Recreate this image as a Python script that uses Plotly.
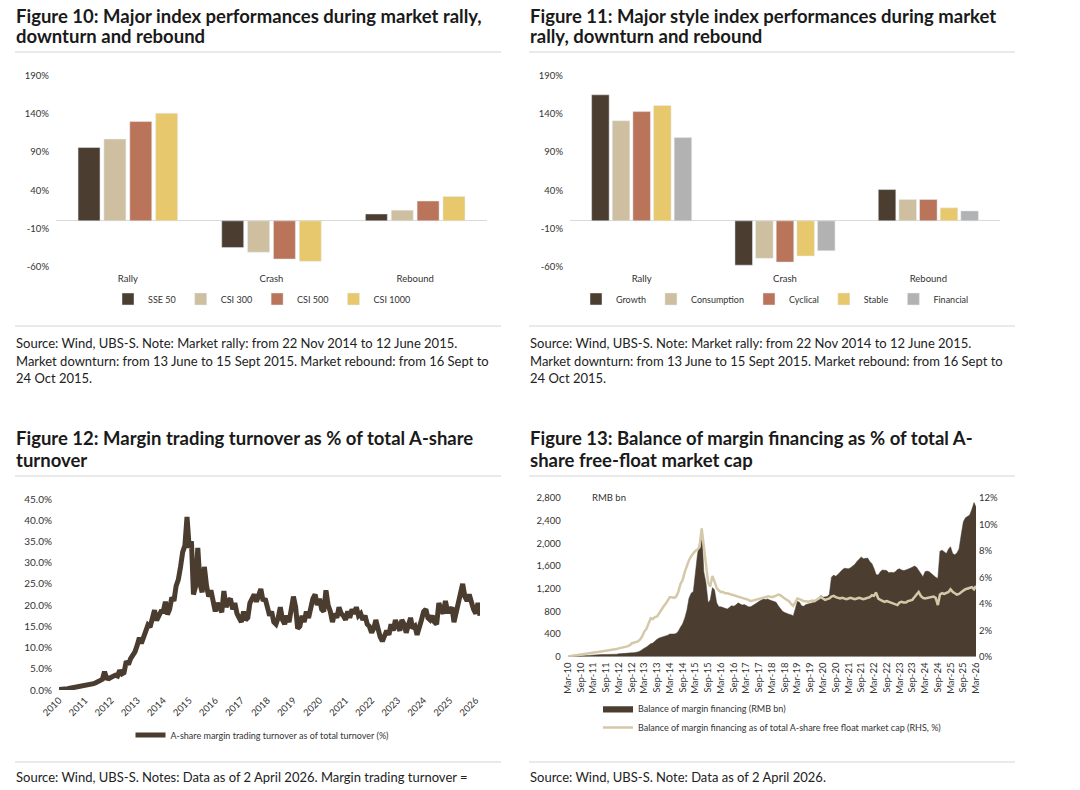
import plotly.graph_objects as go
import pandas as pd

W, H = 1080, 790
FONT = "Lato, Open Sans, sans-serif"

def px(x):
    return x / W

def py(y):
    return 1 - y / H

# ---------------- Figure 10 data ----------------
phase_cats = ["Rally", "Crash", "Rebound"]
sse50 = [96, -35, 9]
csi300 = [107, -41, 14]
csi500 = [130, -50, 26]
csi1000 = [141, -53, 32]

# ---------------- Figure 11 data ----------------
growth = [165, -58, 41]
consumption = [131, -49, 28]
cyclical = [143, -54, 28]
stable = [151, -46, 17]
financial = [109, -39, 13]

bar_ticks = [-60, -10, 40, 90, 140, 190]
bar_tick_labels = ["-60%", "-10%", "40%", "90%", "140%", "190%"]

# ---------------- Figure 12 data (monthly, Jan 2010 - Mar 2026, %) ----------------
turnover_start = "2010-01-01"
margin_turnover_pct = [
    0.1, 0.1, 0.2, 0.3, 0.3, 0.4, 0.5, 0.6, 0.7, 0.7, 0.9, 1.0,          # 2010
    1.1, 1.0, 1.3, 1.4, 1.5, 1.7, 1.9, 2.0, 2.5, 4.3, 2.8, 2.7,          # 2011
    3.0, 3.2, 3.5, 3.3, 4.6, 3.8, 4.1, 6.8, 6.0, 7.4, 8.2, 9.0,          # 2012
    10.5, 12.3, 11.0, 12.5, 14.5, 15.3, 14.8, 16.5, 18.8, 16.4, 17.5, 18.5,  # 2013
    18.5, 20.8, 17.8, 19.0, 21.8, 21.0, 24.5, 26.0, 29.0, 32.5, 34.0, 40.8,  # 2014
    33.5, 35.0, 22.5, 24.5, 33.5, 25.0, 23.0, 29.0, 24.5, 22.0, 23.5, 21.0,  # 2015
    18.5, 20.5, 19.0, 18.3, 23.3, 19.5, 21.0, 21.5, 19.0, 20.5, 18.0, 17.0,  # 2016
    16.0, 18.5, 16.5, 17.0, 20.5, 21.5, 22.5, 20.8, 22.0, 23.8, 21.0, 21.5,  # 2017
    19.5, 17.5, 18.5, 16.0, 15.5, 17.0, 19.5, 16.5, 15.5, 17.5, 16.0, 18.5,  # 2018
    22.0, 19.5, 14.5, 15.0, 17.5, 16.0, 18.5, 17.0, 19.5, 21.5, 22.5, 20.0,  # 2019
    21.5, 19.0, 18.5, 23.5, 20.0, 18.5, 16.0, 18.0, 17.0, 19.5, 18.0, 17.5,  # 2020
    16.5, 18.5, 17.0, 19.0, 18.0, 19.5, 17.5, 18.0, 16.5, 17.5, 15.5, 15.0,  # 2021
    13.5, 14.5, 16.5, 14.0, 12.5, 11.5, 12.5, 14.0, 13.0, 15.5, 14.0, 16.5,  # 2022
    15.0, 14.0, 16.5, 15.5, 13.5, 15.5, 17.0, 14.5, 15.0, 13.0, 14.5, 16.5,  # 2023
    18.5, 19.0, 17.0, 16.5, 17.5, 16.0, 15.5, 20.5, 19.0, 18.0, 21.0, 18.5,  # 2024
    18.5, 19.5, 16.0, 18.5, 21.0, 23.0, 25.0, 22.0, 21.0, 22.5, 20.5, 19.0,  # 2025
    18.0, 20.5, 17.5,                                                    # 2026
]
year_ticks = [str(y) for y in range(2010, 2027)]
turnover_ticks = [0, 5, 10, 15, 20, 25, 30, 35, 40, 45]

# ---------------- Figure 13 data (monthly, Mar 2010 - Mar 2026) ----------------
balance_start = "2010-03-01"
margin_balance_bn = [
    1, 2, 4, 5, 6, 8, 10, 12, 15, 18,                                   # 2010 (Mar-Dec)
    22, 26, 30, 34, 36, 38, 40, 38, 37, 36, 37, 38,                     # 2011
    40, 45, 50, 55, 58, 60, 62, 65, 68, 70, 72, 85,                     # 2012
    100, 130, 150, 170, 200, 230, 240, 280, 310, 330, 340, 350,         # 2013
    360, 380, 400, 395, 400, 410, 450, 520, 580, 680, 820, 1030,        # 2014
    1120, 1150, 1500, 1800, 2000, 2250, 1500, 1300, 950, 1000, 1220, 1180,  # 2015
    950, 880, 880, 870, 850, 840, 870, 900, 890, 910, 950, 930,         # 2016
    910, 920, 900, 880, 880, 900, 920, 950, 980, 1000, 1020, 1010,      # 2017
    1020, 1000, 990, 970, 960, 900, 840, 800, 780, 760, 750, 740,       # 2018
    720, 850, 980, 960, 900, 890, 920, 930, 940, 950, 960, 990,         # 2019
    1040, 1080, 1050, 1050, 1060, 1100, 1400, 1440, 1420, 1450, 1500, 1530,  # 2020
    1560, 1560, 1550, 1570, 1600, 1630, 1680, 1720, 1760, 1730, 1730, 1740,  # 2021
    1680, 1640, 1560, 1450, 1440, 1500, 1530, 1530, 1520, 1480, 1490, 1480,  # 2022
    1500, 1540, 1550, 1530, 1520, 1530, 1540, 1560, 1580, 1600, 1580, 1520,  # 2023
    1480, 1410, 1500, 1510, 1500, 1460, 1440, 1400, 1380, 1860, 1880, 1850,  # 2024
    1820, 1900, 1940, 1820, 1800, 1830, 1900, 2150, 2380, 2450, 2480, 2500,  # 2025
    2600, 2720, 2640,                                                   # 2026
]
margin_balance_pct = [
    0.02, 0.04, 0.06, 0.08, 0.10, 0.12, 0.14, 0.16, 0.19, 0.22,         # 2010 (Mar-Dec)
    0.24, 0.27, 0.30, 0.33, 0.35, 0.38, 0.40, 0.42, 0.45, 0.47, 0.50, 0.52,  # 2011
    0.55, 0.58, 0.63, 0.66, 0.70, 0.72, 0.78, 0.85, 1.00, 1.05, 1.10, 1.15,  # 2012
    1.30, 1.55, 1.90, 2.10, 2.50, 2.90, 2.85, 3.00, 3.05, 3.30, 3.60, 3.80,  # 2013
    4.00, 4.30, 4.50, 4.50, 4.45, 4.55, 4.90, 5.50, 5.80, 6.40, 6.90, 7.30,  # 2014
    7.60, 7.80, 8.00, 8.10, 8.30, 9.70, 8.30, 7.10, 5.60, 5.30, 6.10, 5.70,  # 2015
    5.20, 5.00, 4.90, 4.90, 4.80, 4.80, 4.75, 4.70, 4.70, 4.65, 4.60, 4.55,  # 2016
    4.50, 4.45, 4.40, 4.30, 4.20, 4.25, 4.30, 4.35, 4.40, 4.45, 4.50, 4.55,  # 2017
    4.55, 4.55, 4.50, 4.55, 4.65, 4.70, 4.65, 4.50, 4.40, 4.30, 4.20, 4.00,  # 2018
    3.85, 4.10, 4.40, 4.35, 4.25, 4.20, 4.20, 4.15, 4.20, 4.25, 4.20, 4.30,  # 2019
    4.35, 4.50, 4.40, 4.30, 4.35, 4.40, 4.55, 4.60, 4.50, 4.45, 4.40, 4.45,  # 2020
    4.40, 4.35, 4.40, 4.45, 4.40, 4.35, 4.40, 4.45, 4.40, 4.35, 4.40, 4.45,  # 2021
    4.50, 4.65, 4.60, 4.85, 4.40, 4.30, 4.20, 4.15, 4.20, 4.15, 4.10, 4.05,  # 2022
    3.95, 3.90, 4.10, 4.15, 4.10, 4.10, 4.20, 4.25, 4.30, 4.50, 4.70, 4.90,  # 2023
    4.60, 4.45, 4.40, 4.45, 4.50, 4.50, 4.55, 4.45, 3.90, 4.70, 4.80, 4.75,  # 2024
    4.80, 4.90, 5.10, 4.90, 4.80, 4.70, 4.75, 4.90, 5.00, 5.10, 5.15, 5.20,  # 2025
    5.25, 5.10, 5.35,                                                   # 2026
]

# ---------------- colours ----------------
C_BROWN = "#4b3e31"
C_BEIGE = "#cdbf9f"
C_TERRA = "#ba745a"
C_YELLOW = "#e7c86c"
C_GREY = "#b2b2b2"
C_LINE13 = "#d4c8a8"
TXT = "#333333"

turn_dates = pd.date_range(turnover_start, periods=len(margin_turnover_pct), freq="MS")
bal_dates = pd.date_range(balance_start, periods=len(margin_balance_bn), freq="MS")

fig = go.Figure()

# Figure 10 bars
for name, vals, col in [("SSE 50", sse50, C_BROWN), ("CSI 300", csi300, C_BEIGE),
                        ("CSI 500", csi500, C_TERRA), ("CSI 1000", csi1000, C_YELLOW)]:
    fig.add_trace(go.Bar(x=phase_cats, y=vals, name=name, marker_color=col,
                         xaxis="x", yaxis="y", legend="legend"))

# Figure 11 bars
for name, vals, col in [("Growth", growth, C_BROWN), ("Consumption", consumption, C_BEIGE),
                        ("Cyclical", cyclical, C_TERRA), ("Stable", stable, C_YELLOW),
                        ("Financial", financial, C_GREY)]:
    fig.add_trace(go.Bar(x=phase_cats, y=vals, name=name, marker_color=col,
                         xaxis="x2", yaxis="y2", legend="legend2"))

# Figure 12 line
fig.add_trace(go.Scatter(x=turn_dates, y=margin_turnover_pct, mode="lines",
                         line=dict(color="#4a3c2f", width=5),
                         name="A-share margin trading turnover as of total turnover (%)",
                         xaxis="x3", yaxis="y3", legend="legend3"))

# Figure 13 area + line
fig.add_trace(go.Scatter(x=bal_dates, y=margin_balance_bn, mode="lines", fill="tozeroy",
                         fillcolor=C_BROWN, line=dict(color=C_BROWN, width=0.5),
                         name="Balance of margin financing (RMB bn)",
                         xaxis="x4", yaxis="y4", legend="legend4"))
fig.add_trace(go.Scatter(x=bal_dates, y=margin_balance_pct, mode="lines",
                         line=dict(color=C_LINE13, width=2.5),
                         name="Balance of margin financing as of total A-share free float market cap (RHS, %)",
                         xaxis="x4", yaxis="y5", legend="legend4"))

tickfont = dict(family=FONT, size=9.5, color=TXT)

bar_y_common = dict(range=[-60, 190], tickmode="array", tickvals=bar_ticks,
                    ticktext=bar_tick_labels, showgrid=False,
                    zeroline=True, zerolinecolor="#d9d9d9", zerolinewidth=1,
                    showline=False, ticks="", tickfont=tickfont, automargin=False,
                    ticklabelstandoff=6)
bar_x_common = dict(type="category", showgrid=False, showline=False, ticks="",
                    tickfont=tickfont, zeroline=False, automargin=False,
                    ticklabelstandoff=5)

legend_common = dict(orientation="h", font=dict(family=FONT, size=9, color=TXT),
                     bgcolor="rgba(0,0,0,0)", itemwidth=30, traceorder="normal")

fig.update_layout(
    width=W, height=H, autosize=False,
    margin=dict(l=0, r=0, t=0, b=0, pad=0),
    paper_bgcolor="white", plot_bgcolor="white",
    font=dict(family=FONT, color=TXT),
    barmode="group", bargap=0.28, bargroupgap=0.15,
    xaxis=dict(domain=[px(56), px(487)], anchor="y", **bar_x_common),
    yaxis=dict(domain=[py(266.7), py(75.7)], anchor="x", **bar_y_common),
    xaxis2=dict(domain=[px(570), px(1000)], anchor="y2", **bar_x_common),
    yaxis2=dict(domain=[py(266.7), py(75.7)], anchor="x2", **bar_y_common),
    xaxis3=dict(domain=[px(59), px(480)], anchor="y3", type="date",
                range=["2010-01-01", "2026-03-01"],
                tickvals=[f"{y}-01-01" for y in year_ticks], ticktext=year_ticks,
                tickangle=-45, showgrid=False, showline=False, ticks="",
                tickfont=tickfont, zeroline=False, automargin=False,
                ticklabelstandoff=2),
    yaxis3=dict(domain=[py(690), py(499)], anchor="x3", range=[0, 45],
                tickmode="array", tickvals=turnover_ticks,
                ticktext=[f"{v:.1f}%" for v in turnover_ticks],
                showgrid=False, zeroline=False, showline=False, ticks="",
                tickfont=dict(family=FONT, size=10, color=TXT), automargin=False,
                ticklabelstandoff=6),
    xaxis4=dict(domain=[px(567.7), px(976)], anchor="y4", type="date",
                range=["2010-03-01", "2026-03-01"],
                tickvals=[d for d in pd.date_range("2010-03-01", "2026-03-01", freq="6MS")],
                tickformat="%b-%y", tickangle=-90, showgrid=False, showline=False,
                ticks="", tickfont=tickfont, zeroline=False, automargin=False,
                ticklabelstandoff=3),
    yaxis4=dict(domain=[py(656.7), py(498)], anchor="x4", range=[0, 2800], dtick=400,
                tickformat=",", showgrid=False, zeroline=False, showline=False, ticks="",
                tickfont=tickfont, automargin=False, ticklabelstandoff=6),
    yaxis5=dict(overlaying="y4", side="right", anchor="x4", range=[0, 12], dtick=2,
                ticksuffix="%", showgrid=False, zeroline=False, showline=False, ticks="",
                tickfont=tickfont, automargin=False, ticklabelstandoff=2),
    legend=dict(x=px(262), xanchor="center", y=py(299), yanchor="middle", **legend_common),
    legend2=dict(x=px(775), xanchor="center", y=py(299), yanchor="middle", **legend_common),
    legend3=dict(x=px(262), xanchor="center", y=py(735), yanchor="middle", **legend_common),
    legend4=dict(x=px(598), xanchor="left", y=py(694), yanchor="top",
                 orientation="v", font=dict(family=FONT, size=9, color=TXT),
                 bgcolor="rgba(0,0,0,0)", itemwidth=30, tracegroupgap=2),
)

# ---------------- titles, rules, sources ----------------
annotations = []

def note(x, y, text, size, bold=False, color="#1a1a1a"):
    annotations.append(dict(xref="paper", yref="paper", x=px(x), y=py(y), xanchor="left",
                            yanchor="middle", showarrow=False, align="left",
                            text=f"<b>{text}</b>" if bold else text,
                            font=dict(family=FONT, size=size, color=color)))

TS = 18.5
note(14, 16, "Figure 10: Major index performances during market rally,", TS, True)
note(14, 36, "downturn and rebound", TS, True)
note(528, 16, "Figure 11: Major style index performances during market", TS, True)
note(528, 36, "rally, downturn and rebound", TS, True)
note(14, 438, "Figure 12: Margin trading turnover as % of total A-share", TS, True)
note(14, 460, "turnover", TS, True)
note(528, 438, "Figure 13: Balance of margin financing as % of total A-", TS, True)
note(528, 460, "share free-float market cap", TS, True)

src_lines = ["Source: Wind, UBS-S. Note: Market rally: from 22 Nov 2014 to 12 June 2015.",
             "Market downturn: from 13 June to 15 Sept 2015. Market rebound: from 16 Sept to",
             "24 Oct 2015."]
for i, t in enumerate(src_lines):
    note(14, 343 + i * 17.5, t, 13, False, "#222222")
    note(528, 343 + i * 17.5, t, 13, False, "#222222")
note(14, 777, "Source: Wind, UBS-S. Notes: Data as of 2 April 2026. Margin trading turnover =", 13, False, "#222222")
note(528, 777, "Source: Wind, UBS-S. Note: Data as of 2 April 2026.", 13, False, "#222222")
note(590, 497, "RMB bn", 9.5, False, TXT)

fig.update_layout(annotations=annotations)

shapes = []
for (x0, x1) in [(15, 501), (529, 1015)]:
    for yy in [52, 326, 476, 762]:
        shapes.append(dict(type="line", xref="paper", yref="paper", x0=px(x0), x1=px(x1),
                           y0=py(yy), y1=py(yy), line=dict(color="#d4d4d4", width=1)))
fig.update_layout(shapes=shapes)

# remove the default 8px page margin so the 1080x790 figure fills the window exactly
fig.write_html("out.html",
               config={"displayModeBar": False},
               post_script="document.body.style.margin='0';document.body.style.overflow='hidden';")
